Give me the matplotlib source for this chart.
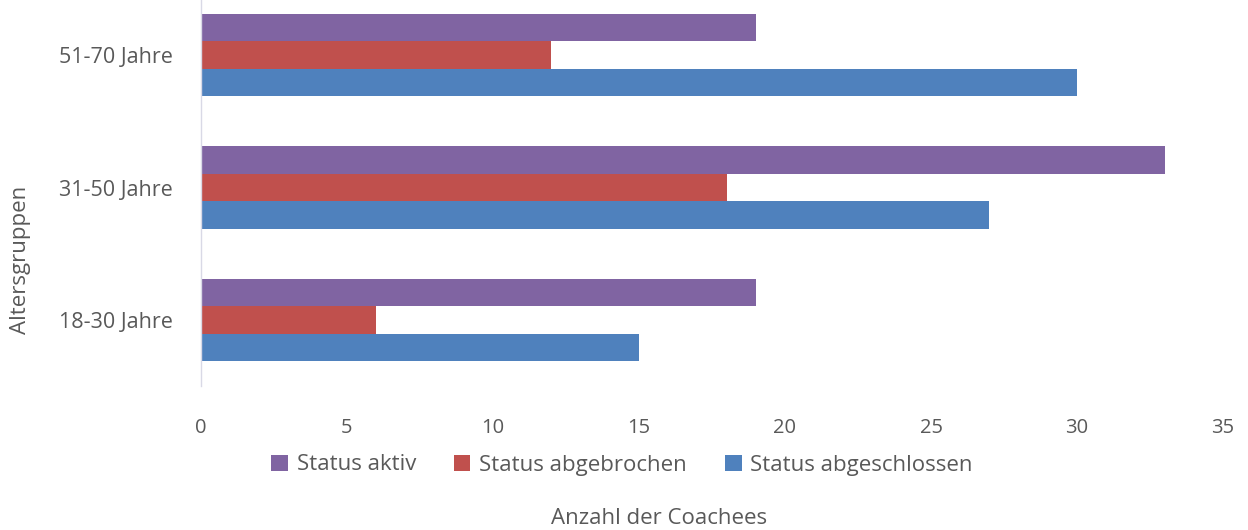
import matplotlib
matplotlib.use('Agg')
import matplotlib.pyplot as plt
import numpy as np

# Daten
gruppen = ['18-30 Jahre', '31-50 Jahre', '51-70 Jahre']
aktiv = [19, 33, 19]
abgebrochen = [6, 18, 12]
abgeschlossen = [15, 27, 30]
x_ticks = [0, 5, 10, 15, 20, 25, 30, 35]

plt.rcParams['font.family'] = ['Open Sans', 'DejaVu Sans']
textfarbe = '#595959'

fig = plt.figure(figsize=(12.48, 5.3), dpi=100)
ax = fig.add_axes([0.161, 0.2717, 0.819, 0.749])

y = np.arange(len(gruppen))
h = 0.207
ax.barh(y - h, abgeschlossen, height=h, color='#4F81BD', label='Status abgeschlossen')
ax.barh(y, abgebrochen, height=h, color='#C0504D', label='Status abgebrochen')
ax.barh(y + h, aktiv, height=h, color='#8064A2', label='Status aktiv')

ax.set_xlim(0, 35)
ax.set_ylim(-0.5, 2.5)
ax.set_xticks(x_ticks)
ax.set_yticks(y)
ax.set_yticklabels(gruppen)
ax.tick_params(axis='both', length=0, colors=textfarbe)
ax.tick_params(axis='x', pad=23, labelsize=14.5)
ax.tick_params(axis='y', pad=20, labelsize=15.5)

for s in ['top', 'right', 'bottom']:
    ax.spines[s].set_visible(False)
ax.spines['left'].set_color('#D9D9E6')
ax.spines['left'].set_linewidth(1)

ax.set_xlabel('Anzahl der Coachees', fontsize=16, color=textfarbe, va='center')
ax.xaxis.set_label_coords(0.448, -0.335)
ax.set_ylabel('Altersgruppen', fontsize=16, color=textfarbe)
ax.yaxis.set_label_coords(-0.166, 0.317)

handles, labels = ax.get_legend_handles_labels()
leg = fig.legend(handles[::-1], labels[::-1], loc='center', bbox_to_anchor=(622 / 1248, 1 - 465 / 530),
                 ncol=3, frameon=False, fontsize=16, handlelength=0.75, handleheight=0.75,
                 handletextpad=0.4, columnspacing=1.7)
for t in leg.get_texts():
    t.set_color(textfarbe)

fig.savefig('out.png', dpi=100)
